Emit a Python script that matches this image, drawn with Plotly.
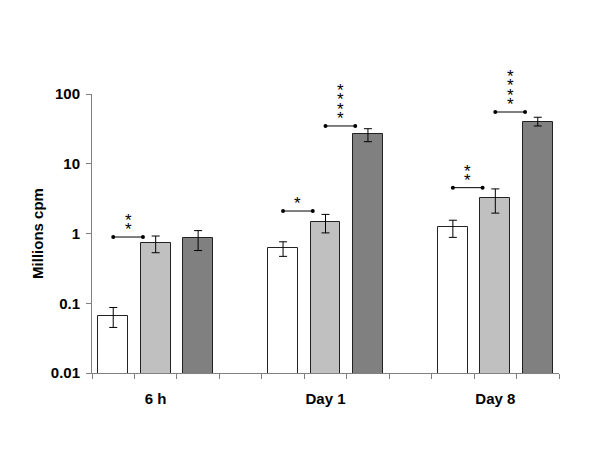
import math
import plotly.graph_objects as go

# ---- data ----
groups = ["6 h", "Day 1", "Day 8"]
series_names = ["A", "B", "C"]
series_colors = ["#ffffff", "#c0c0c0", "#808080"]
values = [
    [0.066, 0.63, 1.25],   # white
    [0.72, 1.46, 3.26],    # light gray
    [0.85, 26.4, 39.7],    # dark gray
]
err_plus = [
    [0.021, 0.13, 0.30],
    [0.20, 0.42, 1.10],
    [0.25, 5.4, 6.7],
]
err_minus = [
    [0.021, 0.16, 0.37],
    [0.19, 0.44, 1.30],
    [0.28, 5.7, 4.9],
]
# significance annotations: (group index, from series, level (y value), n stars)
sig_group = [0, 1, 1, 2, 2]
sig_series = [0, 0, 1, 0, 1]
sig_level = [0.89, 2.1, 34.8, 4.54, 55.2]
sig_stars = [2, 1, 4, 2, 4]

slots_per_group = 4
n_slots = slots_per_group * len(groups) - 1

FONT = "Liberation Sans"
AXIS_COLOR = "#808080"

fig = go.Figure()
for s, name in enumerate(series_names):
    xs = [g * slots_per_group + s for g in range(len(groups))]
    fig.add_trace(go.Bar(
        x=xs, y=values[s], name=name, width=0.7,
        marker=dict(color=series_colors[s], line=dict(color="#222222", width=1)),
        error_y=dict(type="data", array=err_plus[s], arrayminus=err_minus[s],
                     color="#000000", thickness=1, width=4),
        showlegend=False,
    ))

# significance brackets
for g, s, lvl, n in zip(sig_group, sig_series, sig_level, sig_stars):
    x0 = g * slots_per_group + s
    x1 = x0 + 0.7
    fig.add_trace(go.Scatter(
        x=[x0, x1], y=[lvl, lvl], mode="lines+markers",
        line=dict(color="#000000", width=1),
        marker=dict(color="#000000", size=4),
        showlegend=False, hoverinfo="skip",
    ))
    star_txt = "<br>".join(['<span style="font-size:17px">*</span>'] * n)
    fig.add_annotation(
        x=(x0 + x1) / 2, y=math.log10(lvl), xref="x", yref="y",
        text=star_txt, showarrow=False,
        font=dict(family=FONT, size=7.3, color="#000000"),
        yanchor="bottom", yshift=-4,
    )

boundaries = [i - 0.5 for i in range(n_slots + 1)]
fig.update_layout(
    width=600, height=450,
    margin=dict(l=84, r=48.5, t=86, b=85),
    plot_bgcolor="#ffffff", paper_bgcolor="#ffffff",
    font=dict(family=FONT, size=15, color="#000000"),
    bargap=0,
    xaxis=dict(
        range=[-0.5, n_slots - 0.5],
        tickvals=[g * slots_per_group + 1 for g in range(len(groups))],
        ticktext=groups,
        ticks="",
        ticklabelstandoff=12,
        tickfont=dict(family=FONT, size=15, color="#000000", weight="bold"),
        showline=True, linecolor=AXIS_COLOR, linewidth=1,
        showgrid=False, zeroline=False, automargin=False,
        minor=dict(tickvals=boundaries, ticks="outside", ticklen=5,
                   tickcolor=AXIS_COLOR, showgrid=False),
    ),
    yaxis=dict(
        type="log", range=[-2, 2],
        tickvals=[0.01, 0.1, 1, 10, 100],
        ticktext=["0.01", "0.1", "1", "10", "100"],
        ticks="outside", ticklen=5, tickcolor=AXIS_COLOR,
        ticklabelstandoff=3,
        tickfont=dict(family=FONT, size=15, color="#000000", weight="bold"),
        showline=True, linecolor=AXIS_COLOR, linewidth=1,
        showgrid=False, zeroline=False, automargin=False,
        title=dict(text="Millions cpm", font=dict(family=FONT, size=15, weight="bold"),
                   standoff=3),
    ),
)

fig.write_html("out.html")
